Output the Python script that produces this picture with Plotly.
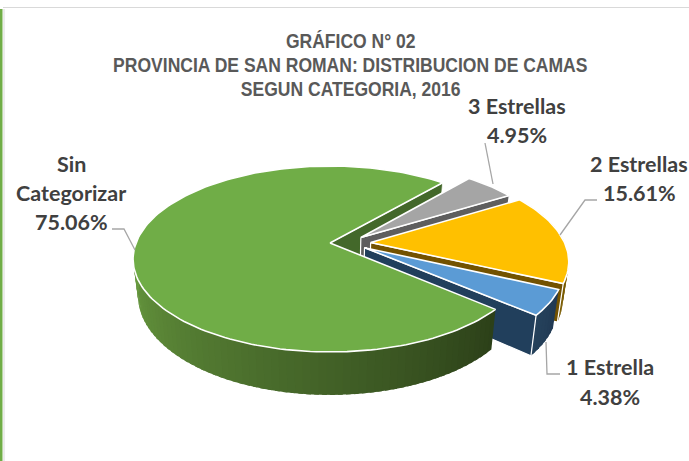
import math
import plotly.graph_objects as go

categories = ["3 Estrellas", "2 Estrellas", "1 Estrella", "Sin Categorizar"]
percentages = [4.95, 15.61, 4.38, 75.06]
label_lines = [["3 Estrellas", "4.95%"], ["2 Estrellas", "15.61%"], ["1 Estrella", "4.38%"], ["Sin", "Categorizar", "75.06%"]]
title_lines = ["GRÁFICO N° 02", "PROVINCIA DE SAN ROMAN: DISTRIBUCION DE CAMAS", "SEGUN CATEGORIA, 2016"]

FIRST_ANGLE = 41.0
EXPLODE = [0.21, 0.21, 0.21, 0.0]
V_SQUASH = 0.45
TOP = ["#a5a5a5", "#ffc000", "#5b9bd5", "#70ad47"]
FACE = ["#5e5e5e", "#735200", "#213f5c", "#43682a"]
WALL_A = [(110, 110, 110), (150, 112, 10), (33, 58, 84), (44, 64, 25)]
WALL_B = [(90, 90, 90), (120, 90, 0), (38, 66, 92), (108, 160, 66)]

CX, CY, A, B, K, D = 330.0, 243.0, 194.0, 90.2, 0.172, 35.6


def proj(u, v, z=0.0):
    w = 1 + K * v
    return CX + A * u / w * (1 - 0.025 * z), CY - B * v / w + z * D / w


def rim(th, phi, e, z=0.0):
    t, p = math.radians(th), math.radians(phi)
    return proj(math.sin(t) + e * math.sin(p), math.cos(t) + e * V_SQUASH * math.cos(p), z)


def apex(phi, e, z=0.0):
    p = math.radians(phi)
    return proj(e * math.sin(p), e * V_SQUASH * math.cos(p), z)


fig = go.Figure()


def poly(pts, fill, line="white", width=1.2):
    xs = [p[0] for p in pts] + [pts[0][0]]
    ys = [p[1] for p in pts] + [pts[0][1]]
    fig.add_trace(go.Scatter(x=xs, y=ys, mode="lines", fill="toself", fillcolor=fill,
                             line=dict(color=line, width=width), hoverinfo="skip", showlegend=False))


spans = []
a = FIRST_ANGLE
for p in percentages:
    spans.append((a, a + p * 3.6))
    a += p * 3.6


def draw_walls(i, lo, hi, phi, e):
    n = max(2, int((hi - lo) / 2))
    for j in range(n):
        a0 = lo + (hi - lo) * j / n
        a1 = lo + (hi - lo) * (j + 1.6) / n
        a1 = min(a1, hi)
        f = (j + 0.5) / n
        c = tuple(int(WALL_A[i][m] + (WALL_B[i][m] - WALL_A[i][m]) * f) for m in range(3))
        col = "rgb(%d,%d,%d)" % c
        poly([rim(a0, phi, e), rim(a1, phi, e), rim(a1, phi, e, 1), rim(a0, phi, e, 1)], col, line=col, width=0)


def draw_top(i, phi, e):
    s, t = spans[i]
    n = max(8, int((t - s) / 1.5))
    arc = [rim(s + (t - s) * j / n, phi, e) for j in range(n + 1)]
    poly([apex(phi, e)] + arc, TOP[i], width=1.6)


# dark cut face of the large slice (its closing edge) lies behind everything else
s3, t3 = spans[3]
phi3 = (s3 + t3) / 2
poly([apex(phi3, 0), rim(t3, phi3, 0), rim(t3, phi3, 0, 1), apex(phi3, 0, 1)], FACE[3], width=0.8)

for i in [0, 1, 2]:
    s, t = spans[i]
    phi = (s + t) / 2
    e = EXPLODE[i]
    draw_walls(i, s, t, phi, e)
    poly([apex(phi, e), rim(t, phi, e), rim(t, phi, e, 1), apex(phi, e, 1)], FACE[i])
    draw_top(i, phi, e)

# large slice on top: wall from the front cut round to the left extreme
draw_walls(3, spans[2][1], spans[2][1] + 140, phi3, 0)
draw_top(3, phi3, 0)

leaders = [
    ([485, 493], [143, 184]),
    ([597, 585, 560], [200, 200, 235]),
    ([560, 547, 546], [374, 374, 342]),
    ([112, 124, 135], [229, 229, 250]),
]
for lx, ly in leaders:
    fig.add_trace(go.Scatter(x=lx, y=ly, mode="lines", line=dict(color="#a6a6a6", width=1.3),
                             hoverinfo="skip", showlegend=False))

label_x = [517, 639, 610, 71]
label_y = [[106, 135], [164, 193], [367, 397], [164, 193, 222]]
annots = []
for x, ys, lines in zip(label_x, label_y, label_lines):
    for y, t in zip(ys, lines):
        annots.append(dict(x=x, y=y, xref="x", yref="y", text="<b>%s</b>" % t, showarrow=False,
                           font=dict(family="Lato", size=21.5, color="#404040")))
for y, t in zip([40, 64, 88], title_lines):
    annots.append(dict(x=350, y=y, xref="x", yref="y", text="<b>%s</b>" % t, showarrow=False,
                       font=dict(family="Liberation Sans", size=21, color="#595959")))

shapes = [
    dict(type="line", x0=3, x1=689, y0=7.5, y1=7.5, xref="x", yref="y", line=dict(color="#d9d9d9", width=1)),
    dict(type="rect", x0=0, x1=2.5, y0=9, y1=461, xref="x", yref="y", fillcolor="#70ad47", line=dict(width=0)),
    dict(type="line", x0=4, x1=4, y0=9, y1=461, xref="x", yref="y", line=dict(color="#d9d9d9", width=1)),
]

fig.update_layout(
    width=689, height=461, margin=dict(l=0, r=0, t=0, b=0),
    paper_bgcolor="white", plot_bgcolor="white", showlegend=False,
    xaxis=dict(range=[0, 689], visible=False, fixedrange=True),
    yaxis=dict(range=[461, 0], visible=False, fixedrange=True),
    annotations=annots, shapes=shapes,
)
post = """
document.body.style.margin='0';
document.querySelectorAll('.annotation-text').forEach(function(t){
  if (t.textContent === t.textContent.toUpperCase() && t.textContent.length > 12) {
    t.style.transformBox='fill-box'; t.style.transformOrigin='center'; t.style.transform='scaleX(0.835)';
  }
});
"""
fig.write_html("out.html", config=dict(displayModeBar=False), post_script=post)
